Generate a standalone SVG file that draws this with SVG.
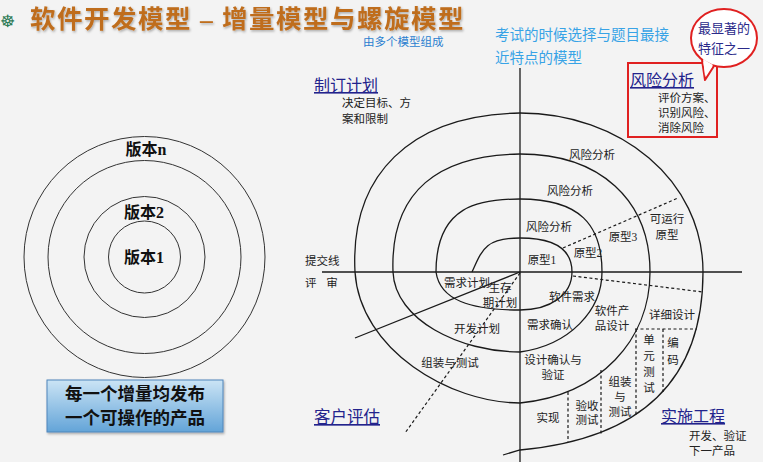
<svg xmlns="http://www.w3.org/2000/svg" width="763" height="462" viewBox="0 0 763 462">
<style>
text{font-family:"Liberation Serif","Noto Sans CJK SC",serif;}
.lb{font-size:11.5px;fill:#222;text-anchor:middle;font-family:"Liberation Serif","Noto Sans CJK SC",sans-serif;}
.ls{font-size:11.5px;fill:#222;}
.hd{font-size:16px;fill:#23238c;text-decoration:underline;}
.ln{fill:none;stroke:#1a1a1a;stroke-width:1.3;}
.ds{fill:none;stroke:#1a1a1a;stroke-width:1.2;stroke-dasharray:3,2.5;}
.ring{fill:none;stroke:#333;stroke-width:1;}
.ver{font-size:16px;fill:#111;text-anchor:middle;font-weight:bold;}
.note{font-family:"Noto Sans CJK SC",sans-serif;}
</style>
<defs>
<linearGradient id="bx" x1="0" y1="0" x2="0" y2="1">
<stop offset="0" stop-color="#cbe4f5"/>
<stop offset="1" stop-color="#63a4d8"/>
</linearGradient>
<filter id="sh" x="-10%" y="-30%" width="120%" height="160%">
<feDropShadow dx="1" dy="1.5" stdDeviation="1" flood-color="#000" flood-opacity="0.3"/>
</filter>
</defs>
<rect width="763" height="462" fill="#f3f3f3"/>

<g id="title">
<text x="0" y="27" font-family="DejaVu Sans,sans-serif" font-size="17" fill="#2b7a55">☸</text>
<text x="30" y="28" font-family="Noto Sans CJK SC,sans-serif" font-size="25.5" font-weight="bold" fill="#bf6d1d" letter-spacing="1.5" filter="url(#sh)">软件开发模型 – 增量模型与螺旋模型</text>
</g>
<g id="note-sub"><text class="note" x="363" y="46" font-size="11.5" fill="#2a7fd0">由多个模型组成</text></g>
<g id="note-exam">
<text class="note" x="495" y="40" font-size="14.5" fill="#38a3e6">考试的时候选择与题目最接</text>
<text class="note" x="495" y="63" font-size="14.5" fill="#38a3e6">近特点的模型</text>
</g>

<g id="incremental">
<circle class="ring" cx="144.5" cy="257" r="120.5"/>
<circle class="ring" cx="144.5" cy="257" r="96.5"/>
<circle class="ring" cx="144.5" cy="257" r="60.5"/>
<circle class="ring" cx="144.5" cy="257" r="36"/>
<text class="ver" x="146" y="155">版本n</text>
<text class="ver" x="144" y="218">版本2</text>
<text class="ver" x="144" y="263">版本1</text>
</g>
<g id="inc-box">
<rect x="47" y="380" width="176" height="52" fill="url(#bx)" stroke="#4f86bb" stroke-width="1" filter="url(#sh)"/>
<text x="135" y="400" text-anchor="middle" font-family="Noto Sans CJK SC,sans-serif" font-size="17.5" font-weight="bold" fill="#111">每一个增量均发布</text>
<text x="135" y="424" text-anchor="middle" font-family="Noto Sans CJK SC,sans-serif" font-size="17.5" font-weight="bold" fill="#111">一个可操作的产品</text>
</g>

<g id="connectors">
<line class="ln" x1="520" y1="68" x2="520" y2="462"/>
<line class="ln" x1="322" y1="272" x2="742" y2="272"/>
<path class="ln" d="M472,272 C482,250 485,238 520,238 C555,238 572,250 572,272 C572,295 550,310 520,310 C470,310 440,300 436,272 C436,205 480,199 520,199 C580,199 602,225 602,272 C602,310 570,345 520,352 C460,352 395,320 393,272 C390,190 440,155 520,154 C600,154 650,200 650,272 C650,340 600,395 520,403 C450,403 360,350 355,272 C350,175 410,115 520,113 C620,113 703,180 703,272 C703,390 630,440 520,450 L503,455"/>
<line class="ln" x1="355" y1="338" x2="520" y2="272"/>
<line class="ds" x1="520" y1="273" x2="405" y2="433"/>
<line class="ds" x1="563" y1="248" x2="678" y2="198"/>
<line class="ds" x1="573" y1="276" x2="703" y2="292"/>
<line class="ds" x1="635" y1="329" x2="697" y2="329"/>
<line class="ds" x1="636" y1="329" x2="636" y2="417"/>
<line class="ds" x1="663" y1="329" x2="663" y2="392"/>
<line class="ds" x1="601" y1="370" x2="601" y2="435"/>
<line class="ds" x1="568" y1="392" x2="568" y2="442"/>
</g>

<g id="spiral-labels">
<text class="lb" x="467" y="287">需求计划</text>
<text class="lb" x="500" y="292">生存</text>
<text class="lb" x="500" y="307">期计划</text>
<text class="lb" x="477" y="333">开发计划</text>
<text class="lb" x="450" y="367">组装与测试</text>
<text class="lb" x="592" y="159">风险分析</text>
<text class="lb" x="570" y="195">风险分析</text>
<text class="lb" x="549" y="231">风险分析</text>
<text class="lb" x="542" y="264">原型1</text>
<text class="lb" x="588" y="257">原型2</text>
<text class="lb" x="623" y="241">原型3</text>
<text class="lb" x="667" y="223">可运行</text>
<text class="lb" x="667" y="239">原型</text>
<text class="lb" x="572" y="301">软件需求</text>
<text class="lb" x="550" y="329">需求确认</text>
<text class="lb" x="612" y="315">软件产</text>
<text class="lb" x="612" y="330">品设计</text>
<text class="lb" x="672" y="319">详细设计</text>
<text class="lb" x="553" y="364">设计确认与</text>
<text class="lb" x="553" y="379">验证</text>
<text class="lb" x="548" y="422">实现</text>
<text class="lb" x="587" y="410">验收</text>
<text class="lb" x="587" y="424">测试</text>
<text class="lb" x="620" y="386">组装</text>
<text class="lb" x="620" y="401">与</text>
<text class="lb" x="620" y="416">测试</text>
<text class="lb" x="649" y="344">单</text>
<text class="lb" x="649" y="360">元</text>
<text class="lb" x="649" y="376">测</text>
<text class="lb" x="649" y="392">试</text>
<text class="lb" x="673" y="347">编</text>
<text class="lb" x="673" y="364">码</text>
<text class="ls" x="305" y="265">提交线</text>
<text class="ls" x="305" y="287" style="white-space:pre;word-spacing:7px">评 审</text>
</g>

<g id="plan">
<text class="hd" x="314" y="91">制订计划</text>
<text class="ls" x="342" y="107">决定目标、方</text>
<text class="ls" x="342" y="123">案和限制</text>
</g>
<g id="risk">
<rect x="628" y="63" width="89" height="74" fill="none" stroke="#e02020" stroke-width="2"/>
<text class="hd" x="630" y="86">风险分析</text>
<text class="ls" x="658" y="102">评价方案、</text>
<text class="ls" x="658" y="117">识别风险、</text>
<text class="ls" x="658" y="132">消除风险</text>
</g>
<g id="bubble">
<path d="M702,60 L705,80 L714,66" fill="#fff" stroke="#e02020" stroke-width="2" stroke-linejoin="round"/>
<ellipse cx="724" cy="38" rx="33" ry="29" fill="#fff" stroke="#e02020" stroke-width="2"/>
<path d="M703,59 L705,76 L713,65 Z" fill="#fff"/>
<text class="note" x="724" y="33" text-anchor="middle" font-size="13" fill="#2a2a8a">最显著的</text>
<text class="note" x="724" y="53" text-anchor="middle" font-size="13" fill="#2a2a8a">特征之一</text>
</g>
<g id="eval"><text class="hd" x="314" y="423" style="font-size:16.5px">客户评估</text></g>
<g id="eng">
<text class="hd" x="661" y="422">实施工程</text>
<text class="ls" x="689" y="440">开发、验证</text>
<text class="ls" x="689" y="455">下一产品</text>
</g>
</svg>
